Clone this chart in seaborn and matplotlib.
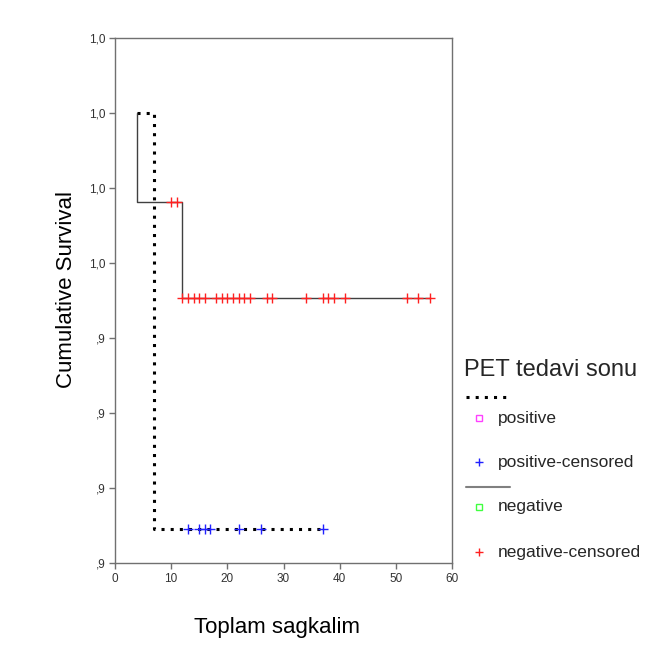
import matplotlib
matplotlib.use("Agg")
import matplotlib.pyplot as plt
from matplotlib.lines import Line2D
import seaborn as sns
import numpy as np

# ---- data ----
pos_step_times = [4, 7, 37]
pos_step_surv = [1.0, 0.9445, 0.9445]
pos_censor_times = [13, 15, 16, 17, 22, 26, 37]
pos_censor_surv = 0.9445

neg_step_times = [4, 4, 12, 56]
neg_step_surv = [1.0, 0.9881, 0.9753, 0.9753]
neg_censor_times_1 = [10, 11]
neg_censor_surv_1 = 0.9881
neg_censor_times_2 = [12, 13, 14, 15, 16, 18, 19, 20, 21, 22, 23, 24, 27, 28,
                      34, 37, 38, 39, 41, 52, 54, 56]
neg_censor_surv_2 = 0.9753

ytick_vals = [1.01, 1.00, 0.99, 0.98, 0.97, 0.96, 0.95, 0.94]
ytick_labels = ["1,0", "1,0", "1,0", "1,0", ",9", ",9", ",9", ",9"]
xtick_vals = [0, 10, 20, 30, 40, 50, 60]

sns.set_style("white")
plt.rcParams['font.family'] = ['Liberation Sans', 'DejaVu Sans']

fig = plt.figure(figsize=(6.48, 6.53), dpi=100)
ax = fig.add_axes([115/648, 1-563/653, 337/648, 525/653])

sns.lineplot(x=pos_step_times, y=pos_step_surv, drawstyle='steps-post',
             estimator=None, sort=False, color='black', linewidth=2.2,
             dashes=False, ax=ax)
ax.lines[-1].set_linestyle((0, (1, 2)))
ax.lines[-1].set_dash_capstyle('butt')

sns.lineplot(x=neg_step_times, y=neg_step_surv, drawstyle='steps-post',
             estimator=None, sort=False, color='#404040', linewidth=1.0, ax=ax)

sns.scatterplot(x=pos_censor_times, y=[pos_censor_surv]*len(pos_censor_times),
                marker='+', color='#2020ff', s=45, linewidth=1.0, ax=ax, zorder=5)
sns.scatterplot(x=neg_censor_times_1, y=[neg_censor_surv_1]*len(neg_censor_times_1),
                marker='+', color='#ff2020', s=45, linewidth=1.0, ax=ax, zorder=5)
sns.scatterplot(x=neg_censor_times_2, y=[neg_censor_surv_2]*len(neg_censor_times_2),
                marker='+', color='#ff2020', s=45, linewidth=1.0, ax=ax, zorder=5)

ax.set_xlim(0, 60)
ax.set_ylim(0.94, 1.01)
ax.set_xticks(xtick_vals)
ax.set_yticks(ytick_vals)
ax.set_yticklabels(ytick_labels)
ax.tick_params(axis='both', direction='out', length=4, width=1, color='#707070',
               labelsize=8.5, labelcolor='#333333', pad=3, left=True, bottom=True)
for s in ax.spines.values():
    s.set_color('#707070')
    s.set_linewidth(1)
    s.set_visible(True)

ax.set_xlabel("Toplam sagkalim", fontsize=16, color='black')
ax.set_ylabel("Cumulative Survival", fontsize=16, color='black')
ax.xaxis.set_label_coords(0.481, -0.103)
ax.yaxis.set_label_coords(-0.113, 0.52)

# ---- legend ----
W, H = 648, 653
def fx(px): return px / W
def fy(py): return 1 - py / H

fig.text(fx(464), fy(370), "PET tedavi sonu", fontsize=17, va='center', ha='left')
fig.add_artist(Line2D([fx(466), fx(510)], [fy(397), fy(397)], color='black',
                      linewidth=2.2, linestyle=(0, (1, 2)), dash_capstyle='butt'))
fig.add_artist(Line2D([fx(479)], [fy(418)], marker='s', markersize=4.5,
                      markerfacecolor='white', markeredgecolor='#ff40ff', linestyle='none'))
fig.text(fx(498), fy(418), "positive", fontsize=12.5, va='center', ha='left')
fig.add_artist(Line2D([fx(479)], [fy(462)], marker='+', markersize=6,
                      color='#2020ff', linestyle='none'))
fig.text(fx(498), fy(462), "positive-censored", fontsize=12.5, va='center', ha='left')
fig.add_artist(Line2D([fx(466), fx(510)], [fy(487), fy(487)], color='#808080',
                      linewidth=1.5))
fig.add_artist(Line2D([fx(479)], [fy(507)], marker='s', markersize=4.5,
                      markerfacecolor='white', markeredgecolor='#40ff40', linestyle='none'))
fig.text(fx(498), fy(507), "negative", fontsize=12.5, va='center', ha='left')
fig.add_artist(Line2D([fx(479)], [fy(552)], marker='+', markersize=6,
                      color='#ff2020', linestyle='none'))
fig.text(fx(498), fy(552), "negative-censored", fontsize=12.5, va='center', ha='left')

fig.savefig("out.png", dpi=100)
